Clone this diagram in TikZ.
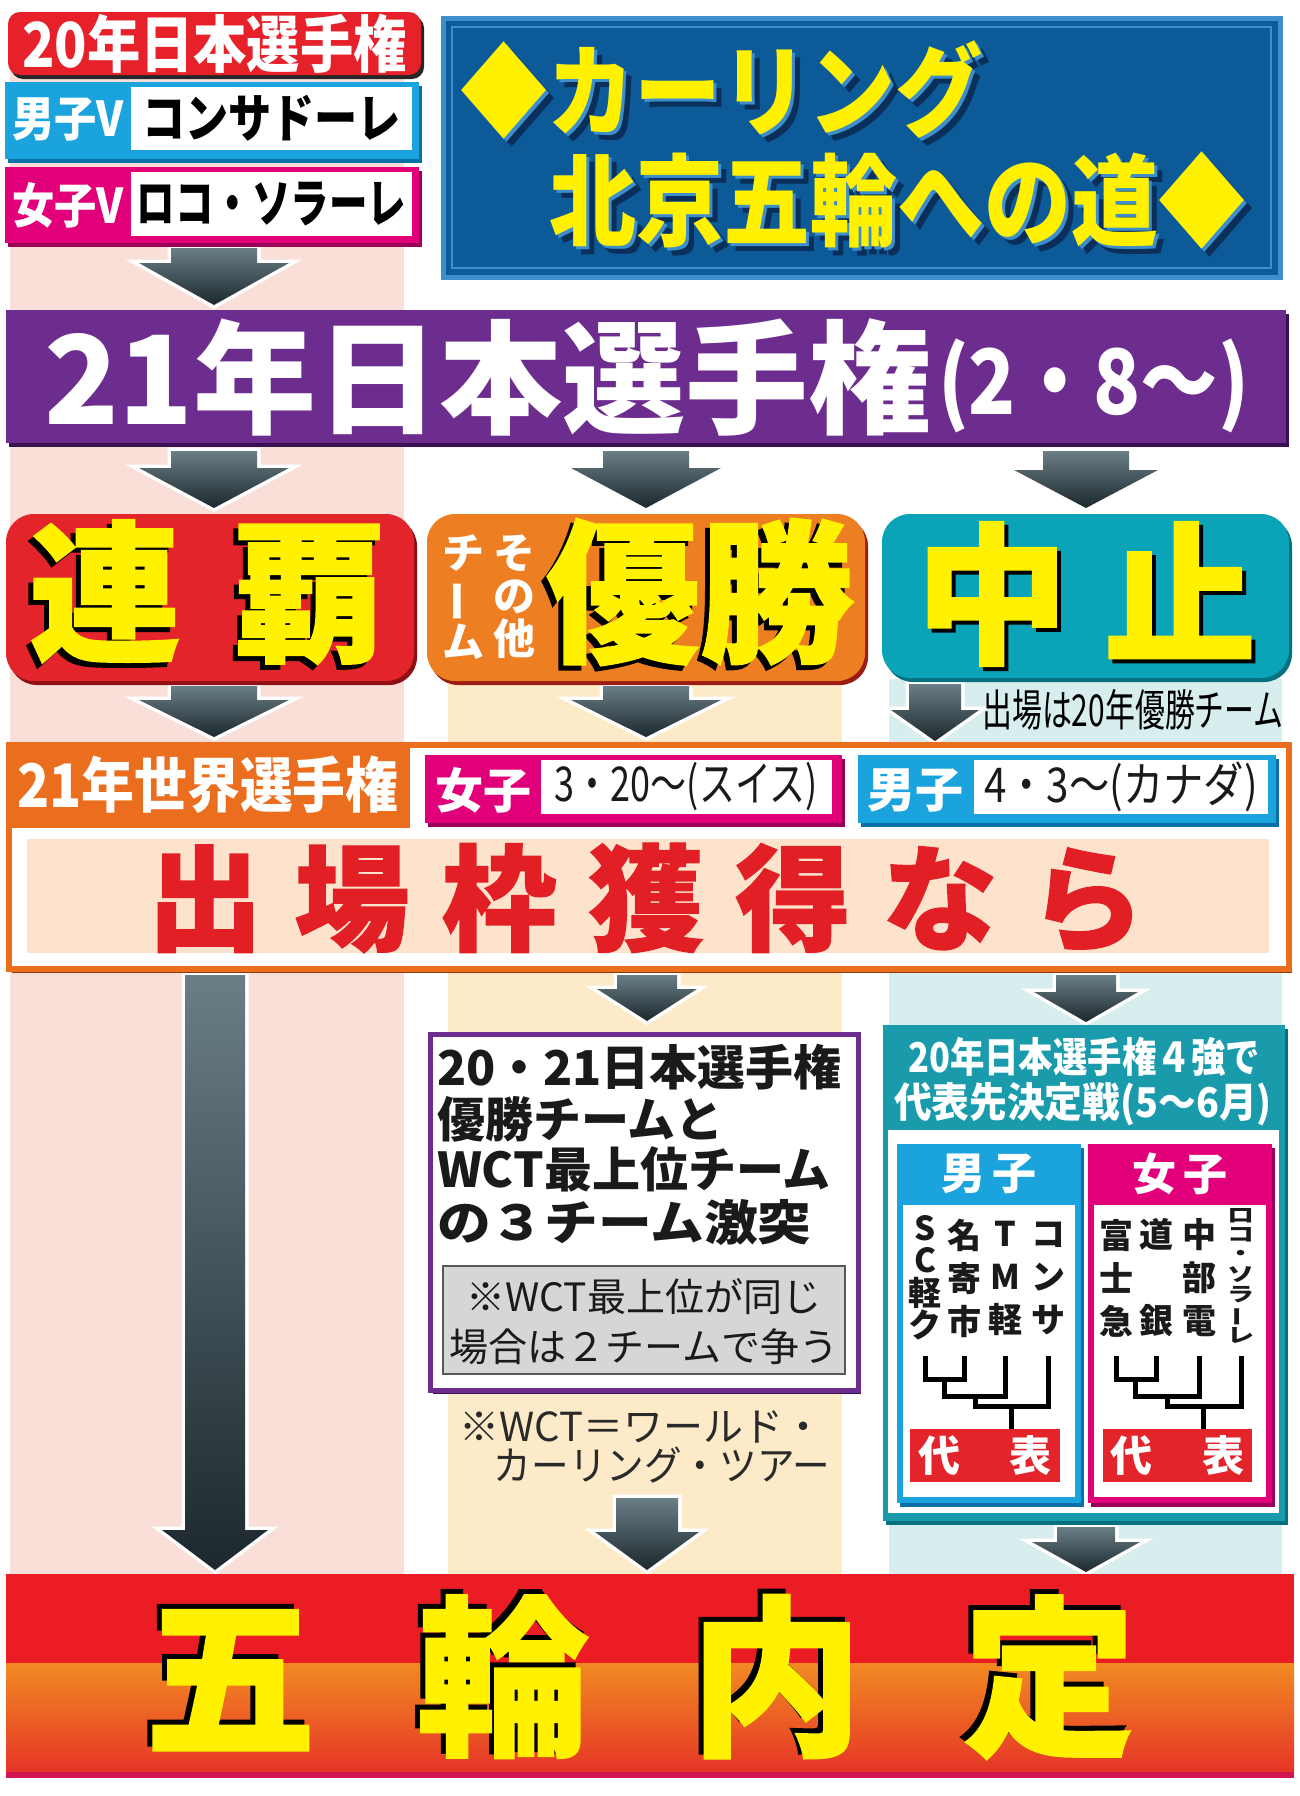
\documentclass[tikz,border=0pt]{standalone}
\usepackage{fontspec}
\usepackage{graphicx}
\setmainfont{Noto Sans CJK JP}
\newfontfamily\heavy{Noto Sans CJK JP}[BoldFeatures={FakeBold=1.2}]
\usetikzlibrary{shadows,calc}
\pgfdeclarelayer{bg}
\pgfsetlayers{bg,main}

\definecolor{pinkS}{HTML}{FADFD8}
\definecolor{peachS}{HTML}{FDEAC8}
\definecolor{cyanS}{HTML}{D8EDEE}
\definecolor{hdrred}{HTML}{E6212A}
\definecolor{cyanbox}{HTML}{1AA3DD}
\definecolor{cyandark}{HTML}{0B6FA8}
\definecolor{magbox}{HTML}{E2007A}
\definecolor{magdark}{HTML}{9A0058}
\definecolor{titleblue}{HTML}{0C5A97}
\definecolor{titleborder}{HTML}{3D8FCC}
\definecolor{navy}{HTML}{0A2F5A}
\definecolor{purp}{HTML}{6D2D8E}
\definecolor{purpdark}{HTML}{3A1050}
\definecolor{rred}{HTML}{E3242B}
\definecolor{rdark}{HTML}{8E1015}
\definecolor{orng}{HTML}{EE7E22}
\definecolor{odark}{HTML}{9C1C12}
\definecolor{tealc}{HTML}{0AA3B8}
\definecolor{tealdark}{HTML}{06707E}
\definecolor{tealb}{HTML}{1A9BAB}
\definecolor{yel}{HTML}{FFF100}
\definecolor{wor}{HTML}{EB6E1E}
\definecolor{wordark}{HTML}{8E3A0E}
\definecolor{peach}{HTML}{FDE3CC}
\definecolor{redtxt}{HTML}{E31F26}
\definecolor{notegray}{HTML}{D6D6D6}
\definecolor{txtdark}{HTML}{1A1A1A}
\definecolor{fnote}{HTML}{2A2A2A}
\definecolor{gred}{HTML}{EC1C24}
\definecolor{gorg}{HTML}{F28A22}
\definecolor{gred2}{HTML}{E53527}
\definecolor{gstrip}{HTML}{D01550}
\definecolor{arrtop}{HTML}{6A7E86}
\definecolor{arrbot}{HTML}{1C282D}

\newcommand\fs[1]{\fontsize{#1}{#1}\selectfont}
\newcommand\xs[2]{\scalebox{#1}[1]{#2}}

% block arrow: #1 x, #2 source node, #3 target node, #4 top gap, #5 tip gap,
% #6 shaft half width, #7 head half width, #8 head height
\newcommand\blkarrow[8]{%
 \path[blkarr] let \p1=(#2.south), \p2=(#3.north) in
  ({(#1-#6)*1pt},{\y1-#4pt}) -- ({(#1+#6)*1pt},{\y1-#4pt})
  -- ({(#1+#6)*1pt},{\y2+#5pt+#8pt}) -- ({(#1+#7)*1pt},{\y2+#5pt+#8pt})
  -- ({#1*1pt},{\y2+#5pt}) -- ({(#1-#7)*1pt},{\y2+#5pt+#8pt})
  -- ({(#1-#6)*1pt},{\y2+#5pt+#8pt}) -- cycle;}

% text with drop shadow: name, options, shadow colour, shift, text
\newcommand\shtext[5]{%
 \node[tx,#2,text=#3,shift={#4}] {#5};
 \node[tx,#2] (#1) {#5};}

\begin{document}
\begin{tikzpicture}[x=1pt,y=-1pt,
  bx/.style={inner sep=0pt, outer sep=0pt, anchor=north west},
  tx/.style={inner sep=0pt, outer sep=0pt},
  nm/.style={tx, align=center, txtdark, font={\bfseries\fontsize{34}{43}\selectfont}},
  brk/.style={line width=5pt, black},
  blkarr/.style={preaction={draw=white, line width=7pt, line join=miter},
                 top color=arrtop, bottom color=arrbot},
  shd/.style={drop shadow={shadow xshift=3pt, shadow yshift=-4pt, fill=#1, opacity=1}}]

\useasboundingbox (0,0) rectangle (1300,1796);

\begin{pgfonlayer}{bg}
\fill[white] (0,0) rectangle (1300,1796);
\fill[pinkS] (10,60) rectangle (404,1574);
\fill[peachS] (448,681) rectangle (842,1574);
\fill[cyanS] (889,679) rectangle (1282,1574);
\end{pgfonlayer}

% ---------- left header ----------
\node[bx, fill=hdrred, rounded corners=12pt, minimum width=413pt, minimum height=63pt, shd=black!85] (hdr20) at (8,12) {};
\node[tx, white, font={\bfseries\fs{62}}] (hdr20t) at (hdr20.center) {\xs{0.86}{20年日本選手権}};

\node[bx, fill=cyanbox, minimum width=414pt, minimum height=77pt, shd=cyandark] (menV) at (5,82) {};
\node[bx, fill=white, minimum width=281pt, minimum height=63pt] (menVw) at (131,87) {};
\node[tx, white, font={\bfseries\fs{48}}] (menVl) at (68,119) {\xs{0.88}{男子V}};
\node[tx, black, font={\bfseries\fs{52}}] (menVn) at (menVw.center) {\xs{0.83}{コンサドーレ}};

\node[bx, fill=magbox, minimum width=414pt, minimum height=76pt, shd=magdark] (womV) at (5,167) {};
\node[bx, fill=white, minimum width=281pt, minimum height=64pt] (womVw) at (131,172) {};
\node[tx, white, font={\bfseries\fs{48}}] (womVl) at (68,205) {\xs{0.88}{女子V}};
\node[tx, black, font={\bfseries\fs{52}}] (womVn) at (womVw.center) {\xs{0.74}{ロコ・ソラーレ}};

% ---------- title ----------
\node[bx, fill=titleblue, draw=titleborder, line width=5pt, minimum width=837pt, minimum height=259pt] (title) at (443,18) {};
\draw[titleborder, line width=2pt] ([shift={(9pt,-9pt)}]title.north west) rectangle ([shift={(-9pt,9pt)}]title.south east);
\node[tx, anchor=west, at={(460,90)}, font={\bfseries\fs{100}}, text=navy, shift={(8pt,-8pt)}] {\xs{0.87}{◆カーリング}};
\shtext{title1}{anchor=west, at={(460,90)}, font={\bfseries\fs{100}}, yel}{titleborder}{(3pt,-3pt)}{\xs{0.87}{◆カーリング}}
\node[tx, anchor=east, at={(1245,200)}, font={\bfseries\fs{100}}, text=navy, shift={(8pt,-8pt)}] {\xs{0.87}{北京五輪への道◆}};
\shtext{title2}{anchor=east, at={(1245,200)}, font={\bfseries\fs{100}}, yel}{titleborder}{(3pt,-3pt)}{\xs{0.87}{北京五輪への道◆}}

% ---------- 21 Japan championship ----------
\node[bx, fill=purp, minimum width=1280pt, minimum height=133pt, shd=purpdark] (jp21) at (6,310) {};
\node[tx, white, anchor=west, font={\bfseries\fs{123}}] (jp21a) at (44,377) {21年日本選手権};
\node[tx, white, anchor=west, font={\bfseries\fs{90}}] (jp21b) at (938,386) {\xs{0.86}{(2・8〜)}};

% ---------- three outcomes ----------
\node[bx, fill=rred, rounded corners=28pt, minimum width=408pt, minimum height=167pt, shd=rdark] (renpa) at (6,514) {};
\shtext{renpat}{at={(207,592)}, font={\heavy\bfseries\fs{152}}, yel}{black}{(-5pt,-5pt)}{連\kern52pt覇}

\node[bx, fill=orng, rounded corners=28pt, minimum width=438pt, minimum height=167pt, shd=odark] (yusho) at (427,514) {};
\shtext{yushot}{at={(700,592)}, font={\heavy\bfseries\fs{154}}, yel}{black}{(-5pt,-5pt)}{優勝}
\node[tx, white, align=center, font={\bfseries\fontsize{42}{43}\selectfont}] (sonota) at (514,597) {そ\\の\\他};
\node[tx, white, align=center, font={\bfseries\fontsize{42}{43}\selectfont}] (team) at (463,597) {チ\\\rotatebox[origin=c]{90}{ー}\\ム};

\node[bx, fill=tealc, rounded corners=28pt, minimum width=407pt, minimum height=164pt, shd=tealdark] (chushi) at (882,514) {};
\shtext{chushit}{at={(1086,594)}, font={\heavy\bfseries\fs{152}}, yel}{black}{(4pt,-4pt)}{中\kern36pt止}

\node[tx, font={\fs{44}}, black] (chunote) at (1133,710) {\xs{0.68}{出場は20年優勝チーム}};

% ---------- world championship ----------
\node[bx, fill=white, draw=wor, line width=6pt, minimum width=1280pt, minimum height=224pt, shd=wordark] (world) at (9,745) {};
\node[bx, fill=wor, minimum width=404pt, minimum height=86pt] (wtab) at (6,742) {};
\node[tx, white, font={\bfseries\fs{60}}] (wtabt) at (208,785) {\xs{0.88}{21年世界選手権}};

\node[bx, fill=magbox, minimum width=417pt, minimum height=68pt, shd=magdark] (wwc) at (425,755) {};
\node[bx, fill=white, minimum width=291pt, minimum height=54pt] (wwcw) at (541,760) {};
\node[tx, white, font={\bfseries\fs{48}}] (wwcl) at (483,790) {女子};
\node[tx, txtdark, font={\fs{48}}] (wwcd) at (wwcw.center) {\xs{0.75}{3・20〜(スイス)}};

\node[bx, fill=cyanbox, minimum width=418pt, minimum height=68pt, shd=cyandark] (mwc) at (858,755) {};
\node[bx, fill=white, minimum width=294pt, minimum height=54pt] (mwcw) at (974,760) {};
\node[tx, white, font={\bfseries\fs{48}}] (mwcl) at (915,790) {男子};
\node[tx, txtdark, font={\fs{48}}] (mwcd) at (mwcw.center) {\xs{0.84}{4・3〜(カナダ)}};

\node[bx, fill=peach, minimum width=1242pt, minimum height=114pt] (peachbox) at (27,839) {};
\node[tx, redtxt, font={\heavy\bfseries\fs{115}}] (waku) at (646,898) {出\kern32pt場\kern32pt枠\kern32pt獲\kern32pt得\kern32ptな\kern32ptら};

% ---------- middle column ----------
\node[bx, fill=white, draw=purp, line width=5pt, minimum width=428pt, minimum height=356pt, shd=purpdark] (cond) at (430,1034) {};
\node[tx, anchor=west, txtdark, font={\bfseries\fs{48}}] (c1) at (437,1067) {20・21日本選手権};
\node[tx, anchor=west, txtdark, font={\bfseries\fs{48}}] (c2) at (437,1119) {優勝チームと};
\node[tx, anchor=west, txtdark, font={\bfseries\fs{48}}] (c3) at (437,1169) {WCT最上位チーム};
\node[tx, anchor=west, txtdark, font={\bfseries\fs{48}}] (c4) at (437,1222) {\xs{1.12}{の３チーム激突}};
\node[bx, fill=notegray, draw=black!65, line width=2pt, minimum width=402pt, minimum height=108pt] (note) at (443,1266) {};
\node[tx, txtdark, font={\fs{39}}] (n1) at (644,1297) {※WCT最上位が同じ};
\node[tx, txtdark, font={\fs{39}}] (n2) at (644,1347) {場合は２チームで争う};

\node[tx, anchor=east, font={\fs{40}}, fnote] (f1) at (823,1427) {※WCT＝ワールド・};
\node[tx, anchor=east, font={\fs{40}}, fnote] (f2) at (830,1465) {\xs{0.94}{カーリング・ツアー}};

% ---------- right column ----------
\node[bx, fill=tealb, minimum width=402pt, minimum height=496pt, shd=tealdark] (teal) at (883,1025) {};
\node[bx, fill=white, minimum width=391pt, minimum height=383pt] (tealw) at (888,1130) {};
\node[tx, white, font={\bfseries\fs{41}}] (th1) at (1084,1057) {\xs{0.84}{20年日本選手権４強で}};
\node[tx, white, font={\bfseries\fs{41}}] (th2) at (1083,1104) {\xs{0.92}{代表先決定戦(5〜6月)}};

\node[bx, fill=cyanbox, minimum width=184pt, minimum height=359pt, shd=cyandark] (mbox) at (897,1144) {};
\node[bx, fill=white, minimum width=172pt, minimum height=292pt] (mboxw) at (903,1205) {};
\node[tx, white, font={\bfseries\fs{44}}] (mboxt) at (989,1174) {男\kern8pt子};
\node[bx, fill=magbox, minimum width=184pt, minimum height=359pt, shd=magdark] (wbox) at (1088,1144) {};
\node[bx, fill=white, minimum width=172pt, minimum height=292pt] (wboxw) at (1094,1205) {};
\node[tx, white, font={\bfseries\fs{44}}] (wboxt) at (1180,1174) {女\kern8pt子};

\node[nm, font={\bfseries\fontsize{33}{32.5}\selectfont}] (mA) at (925,1278) {S\\C\\軽\\ク};
\node[nm] (mB) at (964,1278) {名\\寄\\市};
\node[nm] (mC) at (1005,1278) {T\\M\\軽};
\node[nm] (mD) at (1048,1278) {コ\\ン\\サ};
\node[nm] (wA) at (1116,1278) {富\\士\\急};
\node[nm] (wB) at (1156,1278) {道\\\phantom{道}\\銀};
\node[nm] (wC) at (1199,1278) {中\\部\\電};
\node[tx, txtdark] (wD) at (1241,1278) {\scalebox{1}[0.72]{\bfseries\fontsize{27}{26}\selectfont\begin{tabular}{@{}c@{}}ロ\\コ\\・\\ソ\\ラ\\\rotatebox[origin=c]{90}{ー}\\レ\end{tabular}}};

\node[bx, fill=rred, minimum width=150pt, minimum height=53pt] (mrep) at (910,1429) {};
\node[tx, white, font={\bfseries\fs{42}}] (mrept) at (mrep.center) {代\kern50pt表};
\node[bx, fill=rred, minimum width=149pt, minimum height=53pt] (wrep) at (1103,1429) {};
\node[tx, white, font={\bfseries\fs{42}}] (wrept) at (wrep.center) {代\kern50pt表};

\coordinate (btop) at (0,1356);
\coordinate (mj1) at (944,1379);
\coordinate (mj2) at (975,1396);
\coordinate (mj3) at (1011,1406);
\coordinate (wj1) at (1135,1379);
\coordinate (wj2) at (1167,1396);
\coordinate (wj3) at (1203,1406);
\draw[brk] (mA |- btop) |- (mj1) -| (mB |- btop);
\draw[brk] (mj1) |- (mj2) -| (mC |- btop);
\draw[brk] (mj2) |- (mj3) -| (mD |- btop);
\draw[brk] (mj3) -- (mj3 |- mrep.north);
\draw[brk] (wA |- btop) |- (wj1) -| (wB |- btop);
\draw[brk] (wj1) |- (wj2) -| (wC |- btop);
\draw[brk] (wj2) |- (wj3) -| (wD |- btop);
\draw[brk] (wj3) -- (wj3 |- wrep.north);

% ---------- final ----------
\node[bx, fill=gred, minimum width=1288pt, minimum height=204pt] (gorin) at (6,1574) {};
\shade[top color=gorg, bottom color=gred2] ([yshift=-89pt]gorin.north west) rectangle ([yshift=6pt]gorin.south east);
\fill[gstrip] ([yshift=6pt]gorin.south west) rectangle (gorin.south east);
\shtext{gorint}{at={(640,1677)}, font={\heavy\bfseries\fs{172}}, yel}{black}{(-5pt,5pt)}{五\kern101pt輪\kern101pt内\kern101pt定}

% ---------- block arrows ----------
\begin{pgfonlayer}{bg}
\blkarrow{214}{womV}{jp21}{5}{5}{43}{75}{42}
\blkarrow{214}{jp21}{renpa}{8}{6}{43}{75}{40}
\blkarrow{646}{jp21}{yusho}{8}{6}{43}{75}{40}
\blkarrow{1086}{jp21}{chushi}{8}{6}{43}{72}{38}
\blkarrow{214}{renpa}{world}{5}{8}{43}{75}{37}
\blkarrow{646}{yusho}{world}{5}{8}{43}{75}{37}
\blkarrow{935}{chushi}{world}{6}{4}{26}{44}{31}
\blkarrow{647}{world}{cond}{6}{13}{30}{50}{32}
\blkarrow{1086}{world}{teal}{6}{3}{30}{52}{30}
\blkarrow{215}{world}{gorin}{6}{4}{30}{53}{40}
\blkarrow{647}{f2}{gorin}{15}{4}{31}{52}{38}
\blkarrow{1086}{teal}{gorin}{6}{2}{29}{54}{30}
\end{pgfonlayer}
\end{tikzpicture}
\end{document}
